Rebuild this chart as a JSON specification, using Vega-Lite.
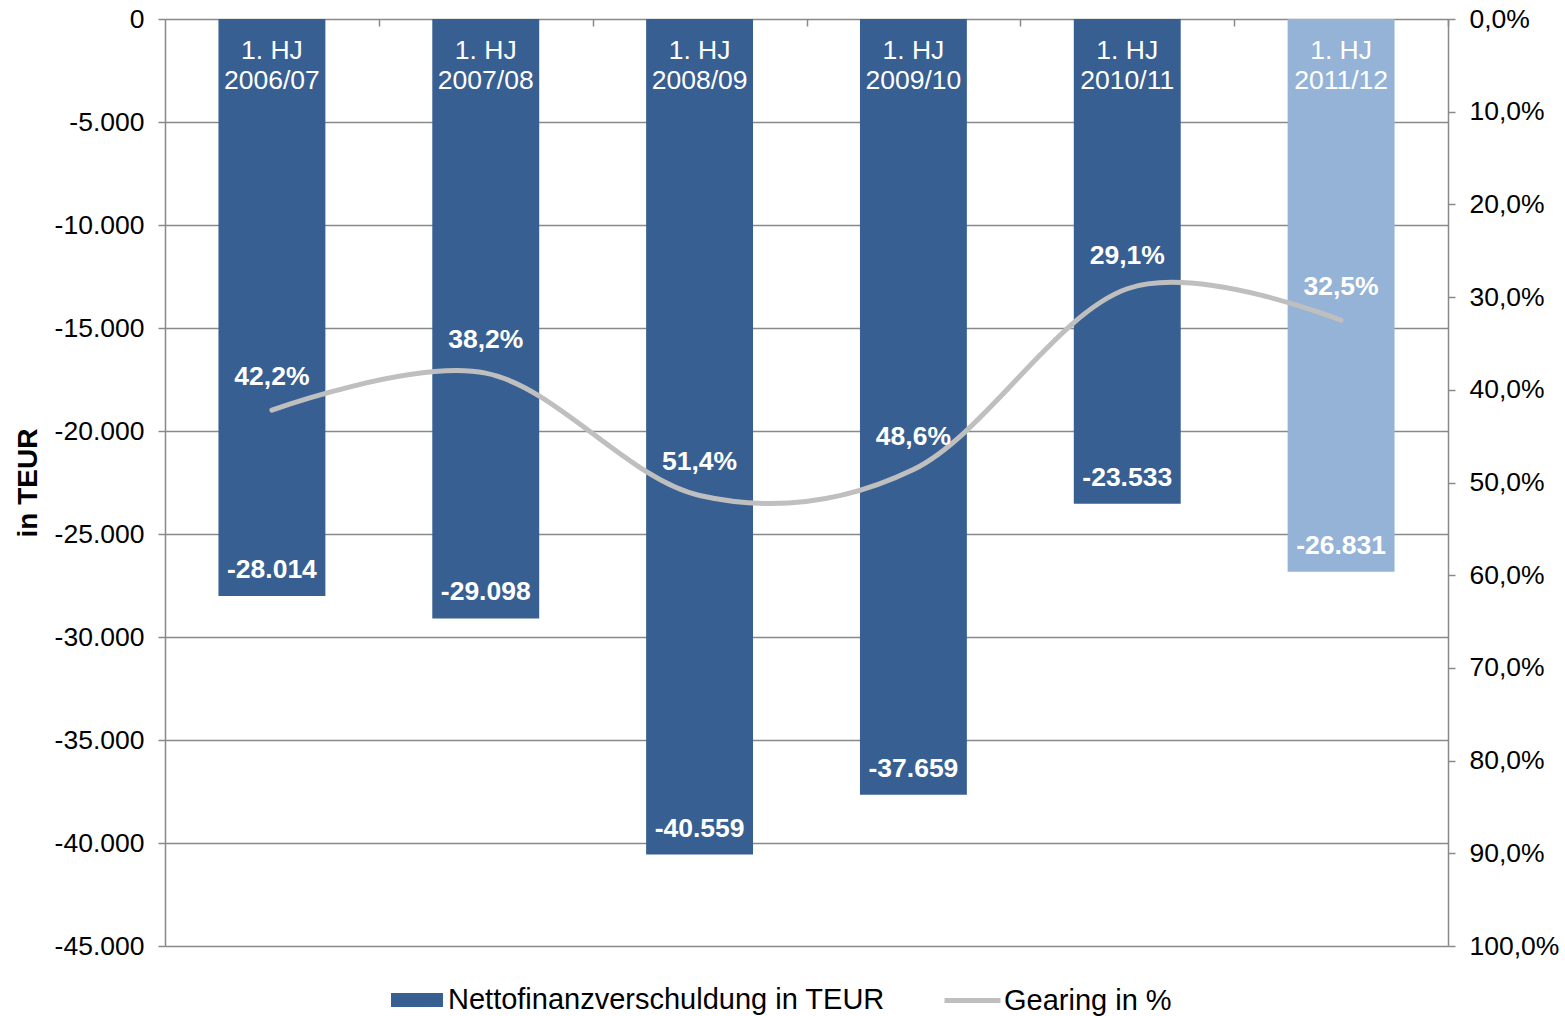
{
  "$schema": "https://vega.github.io/schema/vega-lite/v6.json",
  "width": 1283,
  "height": 927,
  "autosize": {"type": "none"},
  "padding": {"left": 165, "top": 19, "right": 117, "bottom": 70},
  "background": "white",
  "config": {
    "locale": {"number": {"decimal": ",", "thousands": ".", "grouping": [3], "currency": ["", " €"], "minus": "-"}},
    "font": "Liberation Sans",
    "view": {"stroke": null},
    "axis": {
      "labelFont": "Liberation Sans",
      "labelFontSize": 26.5,
      "labelColor": "#000000",
      "domainColor": "#898989",
      "domainWidth": 1.5,
      "tickColor": "#898989",
      "tickWidth": 1.5,
      "gridColor": "#898989",
      "gridWidth": 1.5
    },
    "legend": {
      "labelFont": "Liberation Sans",
      "labelFontSize": 29,
      "labelColor": "#000000",
      "labelLimit": 0,
      "padding": 0
    }
  },
  "data": {
    "values": [
      {"period": "2006/07", "label": "1. HJ\n2006/07", "netdebt": -28014, "gearing": 0.422, "series": "Nettofinanzverschuldung in TEUR", "line": "Gearing in %"},
      {"period": "2007/08", "label": "1. HJ\n2007/08", "netdebt": -29098, "gearing": 0.382, "series": "Nettofinanzverschuldung in TEUR", "line": "Gearing in %"},
      {"period": "2008/09", "label": "1. HJ\n2008/09", "netdebt": -40559, "gearing": 0.514, "series": "Nettofinanzverschuldung in TEUR", "line": "Gearing in %"},
      {"period": "2009/10", "label": "1. HJ\n2009/10", "netdebt": -37659, "gearing": 0.486, "series": "Nettofinanzverschuldung in TEUR", "line": "Gearing in %"},
      {"period": "2010/11", "label": "1. HJ\n2010/11", "netdebt": -23533, "gearing": 0.291, "series": "Nettofinanzverschuldung in TEUR", "line": "Gearing in %"},
      {"period": "2011/12", "label": "1. HJ\n2011/12", "netdebt": -26831, "gearing": 0.325, "series": "Nettofinanzverschuldung in TEUR", "line": "Gearing in %"}
    ]
  },
  "encoding": {
    "x": {
      "field": "period",
      "type": "nominal",
      "sort": null,
      "scale": {"paddingInner": 0.5, "paddingOuter": 0.25},
      "axis": {"orient": "top", "labels": false, "title": null, "domain": false, "grid": false, "ticks": true, "tickOffset": 107, "tickSize": -7}
    }
  },
  "layer": [
    {
      "layer": [
        {
          "mark": {"type": "bar"},
          "encoding": {
            "y": {
              "field": "netdebt",
              "type": "quantitative",
              "scale": {"domain": [-45000, 0], "nice": false, "zero": true},
              "axis": {
                "orient": "left",
                "values": [-45000, -40000, -35000, -30000, -25000, -20000, -15000, -10000, -5000, 0],
                "format": ",d",
                "grid": true,
                "tickSize": 7,
                "labelPadding": 14,
                "title": "in TEUR",
                "titleFont": "Liberation Sans",
                "titleFontSize": 28,
                "titleFontWeight": "bold",
                "titleColor": "#000000",
                "titlePadding": 12
              }
            },
            "color": {
              "condition": {"test": "datum.period === '2011/12'", "value": "#95B3D7"},
              "field": "series",
              "type": "nominal",
              "scale": {"range": ["#385F92"]},
              "legend": {
                "orient": "none",
                "legendX": 226,
                "legendY": 955,
                "title": null,
                "symbolType": "M-1,-0.27H1V0.27H-1Z",
                "symbolSize": 2704,
                "symbolStrokeWidth": 0,
                "labelOffset": 5
              }
            }
          }
        },
        {
          "mark": {"type": "text", "color": "white", "fontSize": 26.5, "fontWeight": "bold", "baseline": "middle", "align": "center", "dy": -26},
          "encoding": {
            "y": {"field": "netdebt", "type": "quantitative"},
            "text": {"field": "netdebt", "type": "quantitative", "format": ",d"}
          }
        },
        {
          "mark": {"type": "text", "color": "white", "fontSize": 26.5, "baseline": "top", "align": "center", "lineBreak": "\n", "lineHeight": 30, "dy": 19},
          "encoding": {
            "y": {"datum": 0, "type": "quantitative"},
            "text": {"field": "label", "type": "nominal"}
          }
        }
      ]
    },
    {
      "layer": [
        {
          "mark": {"type": "line", "interpolate": "cardinal", "strokeWidth": 5, "strokeCap": "round"},
          "encoding": {
            "y": {
              "field": "gearing",
              "type": "quantitative",
              "scale": {"domain": [0, 1], "reverse": true, "nice": false},
              "axis": {
                "orient": "right",
                "values": [0, 0.1, 0.2, 0.3, 0.4, 0.5, 0.6, 0.7, 0.8, 0.9, 1],
                "format": ".1%",
                "grid": false,
                "tickSize": 7,
                "labelPadding": 14,
                "title": null
              }
            },
            "stroke": {
              "field": "line",
              "type": "nominal",
              "scale": {"range": ["#BFBFBF"]},
              "legend": {
                "orient": "none",
                "legendX": 777,
                "legendY": 951,
                "title": null,
                "symbolType": "stroke",
                "symbolSize": 3136,
                "symbolStrokeWidth": 5,
                "labelOffset": 1
              }
            }
          }
        },
        {
          "mark": {"type": "text", "color": "white", "fontSize": 26.5, "fontWeight": "bold", "baseline": "middle", "align": "center", "dy": -33},
          "encoding": {
            "y": {"field": "gearing", "type": "quantitative"},
            "text": {"field": "gearing", "type": "quantitative", "format": ".1%"}
          }
        }
      ]
    }
  ],
  "resolve": {"scale": {"y": "independent"}}
}
